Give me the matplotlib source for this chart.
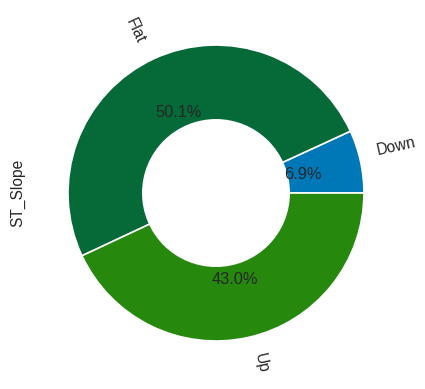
import matplotlib
matplotlib.use('Agg')
import matplotlib.pyplot as plt
from matplotlib.patches import Circle

# ST_Slope value counts
categories = ['Down', 'Flat', 'Up']
counts = [63, 460, 395]
colors = ['#0077b6', '#066938', '#26890e']

plt.rcParams['font.family'] = ['Liberation Sans', 'DejaVu Sans']
plt.rcParams['text.color'] = '#262626'
plt.rcParams['axes.labelcolor'] = '#262626'

fig = plt.figure(figsize=(4.25, 3.89), dpi=100)
ax = fig.add_axes([0.0729, 0.0283, 0.8706, 0.951])

wedges, texts, autotexts = ax.pie(counts, labels=categories, colors=colors,
                                  autopct='%1.1f%%', rotatelabels=True,
                                  wedgeprops={'edgecolor': 'white', 'linewidth': 1.2},
                                  textprops={'fontsize': 11.2})
for t in autotexts:
    t.set_fontsize(11.8)

# donut hole
ax.add_artist(Circle((0, 0), 0.5, fc='white'))

ax.set_xlim(-1.25, 1.25)
ax.set_ylim(-1.25, 1.25)
ax.set_aspect('equal')
ax.set_ylabel('ST_Slope', fontsize=11.2)

fig.savefig('out.png', dpi=100)
